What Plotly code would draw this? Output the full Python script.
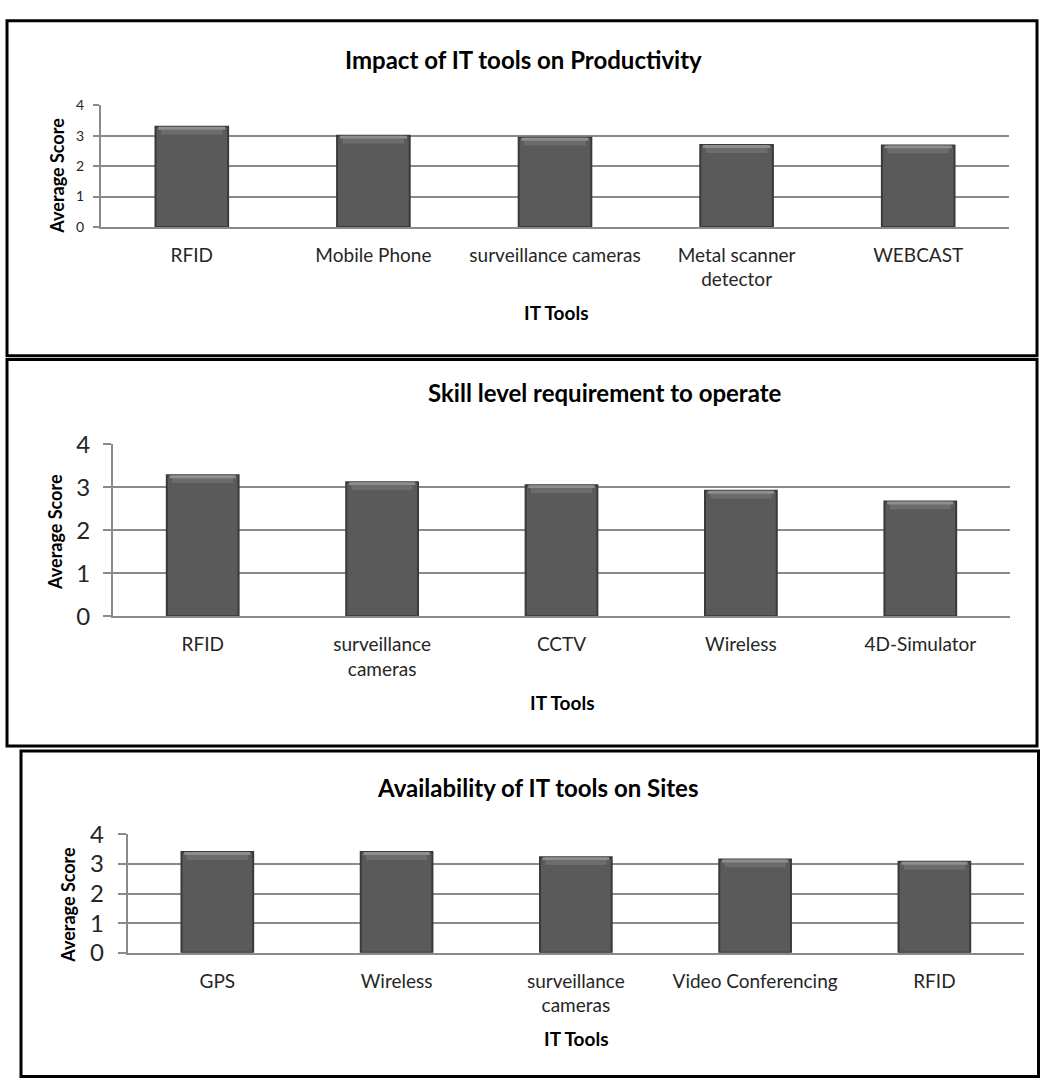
import plotly.graph_objects as go

W, H = 1040, 1091

# ---------------- data ----------------
p1_title = "Impact of IT tools on Productivity"
p1_cats = ["RFID", "Mobile Phone", "surveillance cameras", "Metal scanner<br>detector", "WEBCAST"]
p1_vals = [3.29, 3.00, 2.93, 2.69, 2.68]

p2_title = "Skill level requirement to operate"
p2_cats = ["RFID", "surveillance<br>cameras", "CCTV", "Wireless", "4D-Simulator"]
p2_vals = [3.28, 3.12, 3.05, 2.92, 2.67]

p3_title = "Availability of IT tools on Sites"
p3_cats = ["GPS", "Wireless", "surveillance<br>cameras", "Video Conferencing", "RFID"]
p3_vals = [3.40, 3.40, 3.23, 3.15, 3.07]

y_ticks = [0, 1, 2, 3, 4]
x_title = "IT Tools"
y_title = "Average Score"

# ---------------- helpers ----------------
def px_x(x):
    return x / W

def px_y(y):
    return 1 - y / H

FONT = "Lato, 'Open Sans', sans-serif"
GRID = "#8a8a8a"
BAR = "#5a5a5a"
BAR_EDGE = "#3a3a3a"

panels = [
    dict(cats=p1_cats, vals=p1_vals, title=p1_title, xd=(101, 1009), yd=(91.7, 216.7),
         tfs=14, tstand=6, tlen=6, title_pos=(523, 45), ytitle_pos=(57, 164), xtitle_pos=(556, 305)),
    dict(cats=p2_cats, vals=p2_vals, title=p2_title, xd=(113, 1010), yd=(440, 616.7),
         tfs=24, tstand=8, tlen=8, title_pos=(605, 387), ytitle_pos=(55, 530), xtitle_pos=(562, 705)),
    dict(cats=p3_cats, vals=p3_vals, title=p3_title, xd=(127.7, 1024), yd=(840.7, 962.3),
         tfs=24, tstand=9, tlen=8, title_pos=(537, 793), ytitle_pos=(68, 913), xtitle_pos=(576, 1050)),
]

fig = go.Figure()
annotations = []
layout_axes = {}

for i, p in enumerate(panels, start=1):
    xa = "x" if i == 1 else f"x{i}"
    ya = "y" if i == 1 else f"y{i}"
    ppu = (p["yd"][1] - p["yd"][0]) / 4.0  # pixels per unit
    fig.add_trace(go.Bar(
        x=p["cats"], y=p["vals"], xaxis=xa, yaxis=ya,
        marker=dict(color=BAR, line=dict(color=BAR_EDGE, width=2)),
        showlegend=False, hoverinfo="x+y",
    ))
    s1 = 8 / ppu
    fig.add_trace(go.Bar(
        x=p["cats"], y=[s1] * len(p["vals"]), base=[v - s1 for v in p["vals"]],
        xaxis=xa, yaxis=ya, width=0.34,
        marker=dict(color="#6c6c6c", line=dict(width=0)),
        showlegend=False, hoverinfo="skip",
    ))
    s2 = 3 / ppu
    fig.add_trace(go.Bar(
        x=p["cats"], y=[s2] * len(p["vals"]), base=[v - s2 for v in p["vals"]],
        xaxis=xa, yaxis=ya, width=0.37,
        marker=dict(color="#8e8e8e", line=dict(width=0)),
        showlegend=False, hoverinfo="skip",
    ))

    xkey = "xaxis" if i == 1 else f"xaxis{i}"
    ykey = "yaxis" if i == 1 else f"yaxis{i}"
    layout_axes[xkey] = dict(
        domain=[px_x(p["xd"][0]), px_x(p["xd"][1])], anchor=ya,
        showline=True, linecolor=GRID, linewidth=2, showgrid=False, zeroline=False,
        ticks="", tickfont=dict(family=FONT, size=19, color="#262626"),
        ticklabelstandoff=10, fixedrange=True,
    )
    layout_axes[ykey] = dict(
        domain=[px_y(p["yd"][1]), px_y(p["yd"][0])], anchor=xa,
        range=[0, 4], tickvals=y_ticks, showline=True, linecolor=GRID, linewidth=2,
        showgrid=True, gridcolor=GRID, gridwidth=2, zeroline=False,
        ticks="outside", ticklen=p["tlen"], tickwidth=2, tickcolor=GRID,
        tickfont=dict(family=FONT, size=p["tfs"], color="#262626"),
        ticklabelstandoff=p["tstand"], fixedrange=True,
    )
    annotations.append(dict(
        text=f"<b>{p['title']}</b>", xref="paper", yref="paper",
        x=px_x(p["title_pos"][0]), y=px_y(p["title_pos"][1]),
        xanchor="center", yanchor="middle", showarrow=False,
        font=dict(family=FONT, size=24, color="#000000"),
    ))
    annotations.append(dict(
        text=f"<b>{y_title}</b>", xref="paper", yref="paper",
        x=px_x(p["ytitle_pos"][0]), y=px_y(p["ytitle_pos"][1]),
        xanchor="center", yanchor="middle", showarrow=False, textangle=-90,
        font=dict(family=FONT, size=18, color="#000000"),
    ))
    annotations.append(dict(
        text=f"<b>{x_title}</b>", xref="paper", yref="paper",
        x=px_x(p["xtitle_pos"][0]), y=px_y(p["xtitle_pos"][1]),
        xanchor="center", yanchor="middle", showarrow=False,
        font=dict(family=FONT, size=19, color="#000000"),
    ))

# panel borders
borders = [(7, 5, 1037, 349), (7, 353, 1037, 750), (21, 755, 1038.5, 1089.5)]
shapes = []
for (x0, y0, x1, y1) in borders:
    shapes.append(dict(
        type="rect", xref="paper", yref="paper",
        x0=px_x(x0), x1=px_x(x1), y0=px_y(y1), y1=px_y(y0),
        line=dict(color="#000000", width=3), fillcolor="rgba(0,0,0,0)", layer="above",
    ))

fig.update_layout(
    width=W, height=H, margin=dict(l=0, r=0, t=0, b=0),
    paper_bgcolor="white", plot_bgcolor="white",
    barmode="overlay", bargap=0.6,
    annotations=annotations, shapes=shapes, showlegend=False,
    **layout_axes,
)

fig.write_html(
    "out.html",
    config={"displayModeBar": False},
    post_script="document.body.style.margin='0';document.body.style.overflow='hidden';",
)
